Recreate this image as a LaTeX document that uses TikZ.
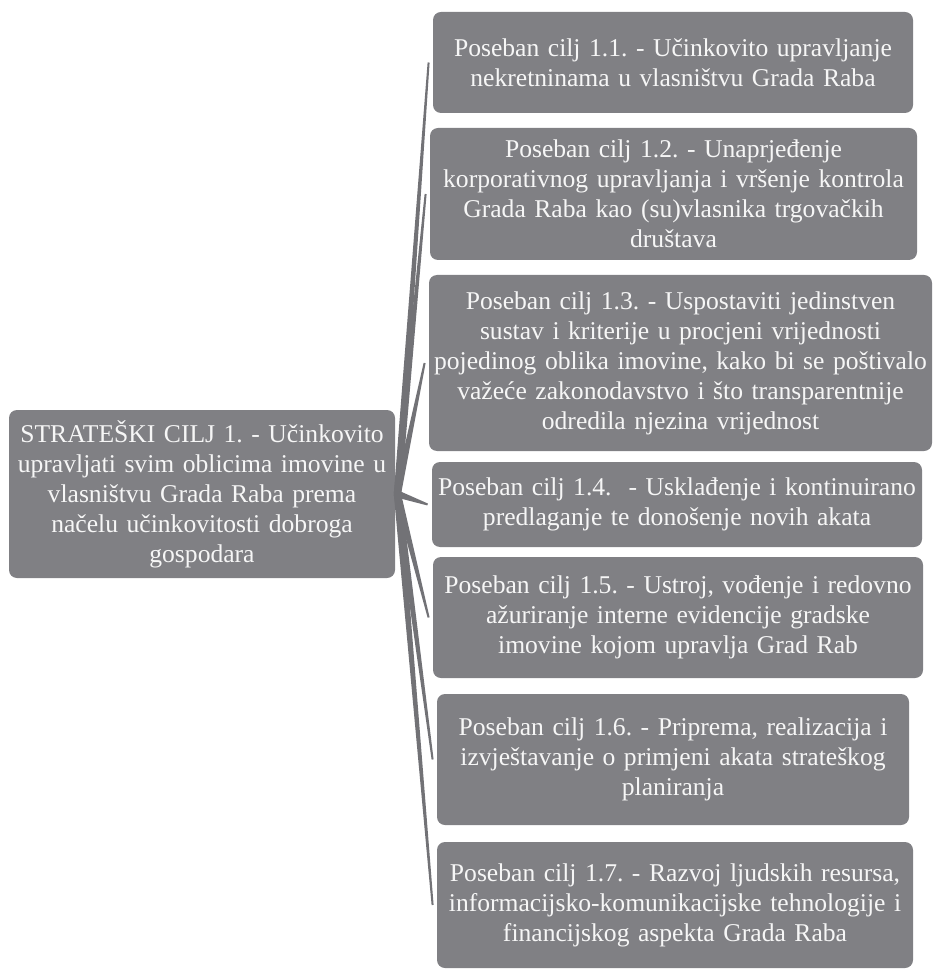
\documentclass[tikz,border=0pt]{standalone}
\usepackage{fontspec}
\setmainfont{Liberation Serif}
\usepackage{tikz}
\usetikzlibrary{calc}
\definecolor{boxgray}{HTML}{808084}
\definecolor{linkgray}{HTML}{727276}
\definecolor{txt}{HTML}{F6F6F6}
\frenchspacing

\begin{document}
\begin{tikzpicture}[x=0.5pt, y=-0.5pt,
        goal/.style={fill=boxgray, rounded corners=4pt, text=txt, align=center,
                     inner sep=0pt, font=\fontsize{12.8}{15}\selectfont},
        link/.style={fill=linkgray}]
	\useasboundingbox (0, 0) rectangle (933, 972);
	% strateski cilj
	\node [goal, text width=193pt, minimum height=84pt] (hub) at (202, 494)
		{STRATEŠKI CILJ 1. - Učinkovito\\ upravljati svim oblicima imovine u\\ vlasništvu Grada Raba prema\\ načelu učinkovitosti dobroga\\ gospodara};
	% posebni ciljevi
	\node [goal, text width=240pt, minimum height=50.5pt] (p1) at (673, 62.5)
		{Poseban cilj 1.1. - Učinkovito upravljanje\\ nekretninama u vlasništvu Grada Raba};
	\node [goal, text width=243.5pt, minimum height=66pt] (p2) at (673.5, 194)
		{Poseban cilj 1.2. - Unaprjeđenje\\ korporativnog upravljanja i vršenje kontrola\\ Grada Raba kao (su)vlasnika trgovačkih\\ društava};
	\node [goal, text width=251.5pt, minimum height=88pt] (p3) at (680.5, 363)
		{Poseban cilj 1.3. - Uspostaviti jedinstven\\ sustav i kriterije u procjeni vrijednosti\\ pojedinog oblika imovine, kako bi se poštivalo\\ važeće zakonodavstvo i što transparentnije\\ odredila njezina vrijednost};
	\node [goal, text width=245pt, minimum height=42.5pt] (p4) at (677, 504.5)
		{Poseban cilj 1.4.\ \ - Usklađenje i kontinuirano\\ predlaganje te donošenje novih akata};
	\node [goal, text width=245pt, minimum height=60.5pt] (p5) at (678, 617.5)
		{Poseban cilj 1.5. - Ustroj, vođenje i redovno\\ ažuriranje interne evidencije gradske\\ imovine kojom upravlja Grad Rab};
	\node [goal, text width=236pt, minimum height=65.5pt] (p6) at (673, 759.5)
		{Poseban cilj 1.6. - Priprema, realizacija i\\ izvještavanje o primjeni akata strateškog\\ planiranja};
	\node [goal, text width=238pt, minimum height=63pt] (p7) at (675, 905)
		{Poseban cilj 1.7. - Razvoj ljudskih resursa,\\ informacijsko-komunikacijske tehnologije i\\ financijskog aspekta Grada Raba};

	% veze
	\coordinate (o) at ([xshift=1pt]hub.east);
	\foreach \n in {1,...,7}{
		\coordinate (t\n) at ([xshift=-2pt]p\n.west);
		\fill [link] ($(o)!1.8pt!90:(t\n)$) -- ($(t\n)!0.5pt!-90:(o)$)
			-- ($(t\n)!0.5pt!90:(o)$) -- ($(o)!1.8pt!-90:(t\n)$) -- cycle;
	}
\end{tikzpicture}
\end{document}
